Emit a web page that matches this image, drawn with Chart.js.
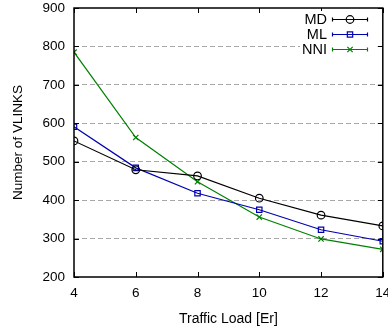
<!DOCTYPE html>
<html>
<head>
<meta charset="utf-8">
<script src="https://cdn.jsdelivr.net/npm/chart.js@4"></script>
<style>
  html, body { margin: 0; padding: 0; background: #fff; overflow: hidden; }
  #wrap { width: 388px; height: 328px; position: relative; }
</style>
</head>
<body>
<div id="wrap"><canvas id="myChart" width="388" height="328"></canvas></div>
<script>
// traffic load values on the x axis
const loads = [4, 6, 8, 10, 12, 14];

// number of VLINKS for each algorithm
const mdValues = [554, 479, 463, 405, 361, 333];
const mlValues = [591, 484, 418, 375, 323, 293];
const nniValues = [785, 563, 448, 356, 299, 272];

const seriesNames = ['MD', 'ML', 'NNI'];
const yTicks = [200, 300, 400, 500, 600, 700, 800, 900];
const xTicks = [4, 6, 8, 10, 12, 14];

const FONT = "'Liberation Sans', Arial, Helvetica, sans-serif";

function toPoints(vals) {
    return loads.map((x, i) => ({ x: x, y: vals[i] }));
}

// frame, mirrored inward ticks and the gnuplot-like key
const framePlugin = {
    id: 'frame',
    afterDraw(chart) {
        const ctx = chart.ctx;
        const a = chart.chartArea;
        const xs = chart.scales.x;
        const ys = chart.scales.y;
        ctx.save();
        ctx.strokeStyle = '#000';
        ctx.lineWidth = 1.5;
        ctx.strokeRect(a.left, a.top, a.right - a.left, a.bottom - a.top);
        ctx.lineWidth = 1;
        ctx.beginPath();
        xTicks.forEach(v => {
            const px = Math.round(xs.getPixelForValue(v)) + 0.5;
            ctx.moveTo(px, a.bottom); ctx.lineTo(px, a.bottom - 5);
            ctx.moveTo(px, a.top); ctx.lineTo(px, a.top + 5);
        });
        yTicks.forEach(v => {
            const py = Math.round(ys.getPixelForValue(v)) + 0.5;
            ctx.moveTo(a.left, py); ctx.lineTo(a.left + 5, py);
            ctx.moveTo(a.right, py); ctx.lineTo(a.right - 5, py);
        });
        ctx.stroke();

        // key
        ctx.fillStyle = '#fff';
        ctx.fillRect(300, 11, 75, 46);
        ctx.font = '14.5px ' + FONT;
        ctx.textAlign = 'right';
        ctx.textBaseline = 'middle';
        const rows = [19, 34, 49];
        chart.data.datasets.forEach((ds, i) => {
            const y = rows[i];
            ctx.fillStyle = '#000';
            ctx.fillText(seriesNames[i], 327, y + 1);
            ctx.strokeStyle = ds.borderColor;
            ctx.lineWidth = 1.2;
            ctx.beginPath();
            ctx.moveTo(332, y + 0.5); ctx.lineTo(368, y + 0.5);
            ctx.moveTo(332.5, y - 1.5); ctx.lineTo(332.5, y + 2.5);
            ctx.moveTo(367.5, y - 1.5); ctx.lineTo(367.5, y + 2.5);
            ctx.stroke();
            ctx.fillStyle = 'rgba(0,0,0,0)';
            Chart.helpers.drawPoint(ctx, {
                pointStyle: ds.pointStyle,
                radius: ds.pointRadius,
                borderWidth: ds.pointBorderWidth,
                rotation: 0
            }, 350, y + 0.5);
        });
        ctx.restore();
    }
};

const ctx = document.getElementById('myChart').getContext('2d');
new Chart(ctx, {
    type: 'line',
    data: {
        datasets: [
            {
                label: 'MD',
                data: toPoints(mdValues),
                borderColor: '#000000',
                pointStyle: 'circle'
            },
            {
                label: 'ML',
                data: toPoints(mlValues),
                borderColor: '#0000b0',
                pointStyle: 'rect'
            },
            {
                label: 'NNI',
                data: toPoints(nniValues),
                borderColor: '#008000',
                pointStyle: 'crossRot'
            }
        ].map(ds => Object.assign(ds, {
            backgroundColor: 'rgba(0,0,0,0)',
            pointBorderColor: ds.borderColor,
            borderWidth: 1.2,
            pointRadius: 3.8,
            pointBorderWidth: 1.2,
            fill: false,
            tension: 0
        }))
    },
    options: {
        responsive: false,
        animation: false,
        events: [],
        layout: { padding: { left: 10, right: 5, top: 8, bottom: 0 } },
        plugins: {
            legend: { display: false },
            tooltip: { enabled: false }
        },
        scales: {
            x: {
                type: 'linear',
                min: 4,
                max: 14,
                afterBuildTicks(scale) { scale.ticks = xTicks.map(v => ({ value: v })); },
                afterFit(scale) { scale.paddingRight = 0; scale.paddingLeft = 0; scale.height = 51; },
                grid: { display: false, drawTicks: false },
                border: { display: false },
                ticks: { color: '#000', padding: 8, font: { family: FONT, size: 13.5 } },
                title: {
                    display: true,
                    text: 'Traffic Load [Er]',
                    color: '#000',
                    padding: { top: 2, bottom: 0 },
                    font: { family: FONT, size: 14 }
                }
            },
            y: {
                min: 200,
                max: 900,
                afterBuildTicks(scale) { scale.ticks = yTicks.map(v => ({ value: v })); },
                afterFit(scale) { scale.width = 64; scale.paddingTop = 0; scale.paddingBottom = 0; },
                grid: {
                    drawTicks: false,
                    lineWidth: 1,
                    color: c => (c.tick && (c.tick.value === 200 || c.tick.value === 900)) ? 'rgba(0,0,0,0)' : '#a8a8a8'
                },
                border: { display: false, dash: [5, 3] },
                ticks: { color: '#000', padding: 9, font: { family: FONT, size: 13.5 } },
                title: {
                    display: true,
                    text: 'Number of VLINKS',
                    color: '#000',
                    padding: { top: 0, bottom: 4 },
                    font: { family: FONT, size: 13.5 }
                }
            }
        }
    },
    plugins: [framePlugin]
});
</script>
</body>
</html>
